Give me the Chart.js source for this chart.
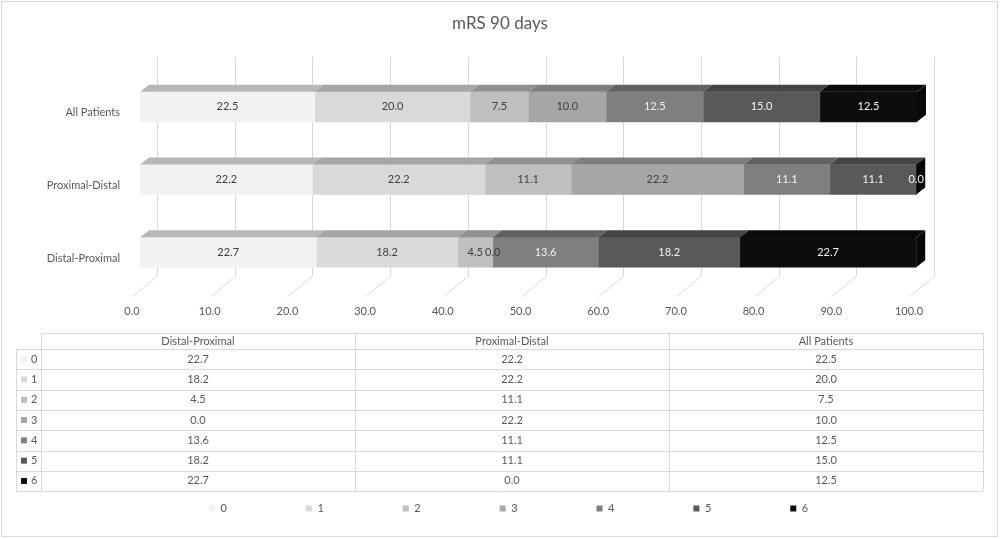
<!DOCTYPE html>
<html>
<head>
<meta charset="utf-8">
<script src="https://cdn.jsdelivr.net/npm/chart.js@4.4.1/dist/chart.umd.min.js"></script>
<style>
  html, body { margin: 0; padding: 0; background: #fff; }
  #wrap { width: 1000px; height: 539px; }
</style>
</head>
<body>
<div id="wrap"><canvas id="mrsChart"></canvas></div>
<script>
// categories as Excel lists them (first one ends up at the bottom)
const categories = ['Distal-Proximal', 'Proximal-Distal', 'All Patients'];
const mrsScores = ['0', '1', '2', '3', '4', '5', '6'];

// percent of patients per mRS score, one value per category
const mrs0 = [22.7, 22.2, 22.5];
const mrs1 = [18.2, 22.2, 20.0];
const mrs2 = [4.5, 11.1, 7.5];
const mrs3 = [0.0, 22.2, 10.0];
const mrs4 = [13.6, 11.1, 12.5];
const mrs5 = [18.2, 11.1, 15.0];
const mrs6 = [22.7, 0.0, 12.5];

// x axis ticks 0.0 .. 100.0
const xMin = 0;
const xMax = 100;
const xStep = 10;

const seriesValues = [mrs0, mrs1, mrs2, mrs3, mrs4, mrs5, mrs6];
const greys = ['#f2f2f2', '#d9d9d9', '#bfbfbf', '#a6a6a6', '#7f7f7f', '#595959', '#0d0d0d'];
const textGrey = '#595959';
const lineGrey = '#d9d9d9';
const smallFont = '11px Lato, "Open Sans", sans-serif';

Chart.defaults.font.family = 'Lato, "Open Sans", sans-serif';

function shade(hex, f){
  var n = parseInt(hex.slice(1), 16);
  var r = Math.round(((n >> 16) & 255) * f);
  var g = Math.round(((n >> 8) & 255) * f);
  var b = Math.round((n & 255) * f);
  return 'rgb(' + r + ',' + g + ',' + b + ')';
}

// fake the Excel 3D look, plus the data table under the axis
const excelLook = {
  id: 'excelLook',
  afterLayout(chart){
    // legend starts under the table, title centred on the whole picture
    chart.legend.left = 130;
    chart.titleBlock.left = 0;
    chart.titleBlock.right = 1000;
  },
  beforeDraw(chart){
    const ctx = chart.ctx;
    ctx.save();
    ctx.strokeStyle = lineGrey;
    ctx.lineWidth = 1;
    ctx.strokeRect(1.5, 1.5, 996, 535);
    ctx.restore();
  },
  beforeDatasetsDraw(chart){
    const ctx = chart.ctx;
    const xs = chart.scales.x;
    ctx.save();
    ctx.strokeStyle = lineGrey;
    ctx.lineWidth = 1;
    ctx.beginPath();
    xs.ticks.forEach(function(t){
      const px = Math.round(xs.getPixelForValue(t.value)) + 0.5;
      ctx.moveTo(px + 17, 57);
      ctx.lineTo(px + 17, 276);
      ctx.lineTo(px - 8, 297);
    });
    ctx.stroke();
    ctx.restore();
  },
  afterDatasetsDraw(chart){
    const ctx = chart.ctx;
    const dx = 9, dy = 7;
    ctx.save();
    chart.data.datasets.forEach(function(ds, i){
      const meta = chart.getDatasetMeta(i);
      meta.data.forEach(function(el){
        const p = el.getProps(['x', 'y', 'base', 'height'], true);
        const x0 = Math.min(p.x, p.base), x1 = Math.max(p.x, p.base);
        const top = p.y - p.height / 2, bottom = p.y + p.height / 2;
        if (x1 - x0 > 0){
          ctx.fillStyle = shade(greys[i], 0.76);
          ctx.beginPath();
          ctx.moveTo(x0, top);
          ctx.lineTo(x1, top);
          ctx.lineTo(x1 + dx, top - dy);
          ctx.lineTo(x0 + dx, top - dy);
          ctx.closePath();
          ctx.fill();
        }
        if (i === chart.data.datasets.length - 1){
          ctx.fillStyle = shade(greys[i], 0.6);
          ctx.beginPath();
          ctx.moveTo(x1, top);
          ctx.lineTo(x1 + dx, top - dy);
          ctx.lineTo(x1 + dx, bottom - dy);
          ctx.lineTo(x1, bottom);
          ctx.closePath();
          ctx.fill();
        }
      });
    });
    ctx.font = smallFont;
    ctx.textAlign = 'center';
    ctx.textBaseline = 'middle';
    chart.data.datasets.forEach(function(ds, i){
      const meta = chart.getDatasetMeta(i);
      ctx.fillStyle = i < 4 ? '#404040' : '#f2f2f2';
      meta.data.forEach(function(el, j){
        const p = el.getProps(['x', 'y', 'base'], true);
        ctx.fillText(ds.data[j].toFixed(1), (p.x + p.base) / 2, p.y);
      });
    });
    ctx.restore();
  },
  afterDraw(chart){
    const ctx = chart.ctx;
    const left = 16, keyW = 25, right = 983;
    const headTop = 333, rowTop = 349, rowH = 20.3;
    const colW = (right - left - keyW) / categories.length;
    const bottom = rowTop + rowH * mrsScores.length;
    ctx.save();
    ctx.strokeStyle = lineGrey;
    ctx.lineWidth = 1;
    ctx.beginPath();
    ctx.moveTo(left + keyW, headTop + 0.5);
    ctx.lineTo(right, headTop + 0.5);
    for (var r = 0; r <= mrsScores.length; r++){
      const y = Math.round(rowTop + r * rowH) + 0.5;
      ctx.moveTo(left, y);
      ctx.lineTo(right, y);
    }
    ctx.moveTo(left + 0.5, rowTop);
    ctx.lineTo(left + 0.5, bottom);
    for (var c = 0; c <= categories.length; c++){
      const x = Math.round(left + keyW + c * colW) + 0.5;
      ctx.moveTo(x, headTop);
      ctx.lineTo(x, bottom);
    }
    ctx.stroke();

    ctx.font = smallFont;
    ctx.textBaseline = 'middle';
    ctx.fillStyle = textGrey;
    ctx.textAlign = 'center';
    categories.forEach(function(cat, c){
      ctx.fillText(cat, left + keyW + (c + 0.5) * colW, (headTop + rowTop) / 2 + 0.5);
    });
    mrsScores.forEach(function(s, r){
      const yc = rowTop + (r + 0.5) * rowH;
      ctx.fillStyle = greys[r];
      ctx.fillRect(left + 5, yc - 3, 6, 6);
      ctx.fillStyle = textGrey;
      ctx.textAlign = 'left';
      ctx.fillText(s, left + 15, yc);
      ctx.textAlign = 'center';
      categories.forEach(function(cat, c){
        ctx.fillText(seriesValues[r][c].toFixed(1), left + keyW + (c + 0.5) * colW, yc);
      });
    });
    ctx.restore();
  }
};

const datasets = mrsScores.map(function(s, i){
  return {
    label: s,
    data: seriesValues[i],
    backgroundColor: greys[i],
    borderWidth: 0,
    barThickness: 30
  };
});

new Chart(document.getElementById('mrsChart'), {
  type: 'bar',
  data: { labels: categories, datasets: datasets },
  options: {
    indexAxis: 'y',
    responsive: true,
    maintainAspectRatio: false,
    animation: false,
    layout: { padding: { top: 0, left: 0, right: 83, bottom: 15 } },
    scales: {
      x: {
        stacked: true,
        min: xMin,
        max: xMax,
        grid: { display: false, drawTicks: false },
        border: { display: false },
        ticks: {
          stepSize: xStep,
          padding: 16,
          labelOffset: -8,
          maxRotation: 0,
          color: textGrey,
          font: { size: 11 },
          callback: function(v){ return Number(v).toFixed(1); }
        },
        afterFit: function(scale){ scale.height = 135.5; }
      },
      y: {
        stacked: true,
        reverse: true,
        grid: { display: false, drawTicks: false },
        border: { display: false },
        ticks: { padding: 20, labelOffset: 6, color: textGrey, font: { size: 11 } },
        afterFit: function(scale){ scale.width = 140; }
      }
    },
    plugins: {
      title: {
        display: true,
        text: 'mRS 90 days',
        color: textGrey,
        font: { size: 17, weight: 'normal' },
        padding: { top: 13.8, bottom: 36.3 }
      },
      legend: {
        position: 'bottom',
        align: 'start',
        labels: { boxWidth: 6, boxHeight: 6, padding: 79, color: textGrey, font: { size: 11 } }
      },
      tooltip: { enabled: false }
    }
  },
  plugins: [excelLook]
});
</script>
</body>
</html>
